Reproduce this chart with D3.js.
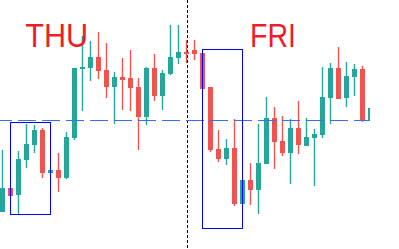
<!DOCTYPE html>
<html>
<head>
<meta charset="utf-8">
<script src="https://cdn.jsdelivr.net/npm/d3@7"></script>
<style>
  html, body { margin: 0; padding: 0; background: #fff; }
  svg { display: block; }
</style>
</head>
<body>
<svg id="svg"></svg>
<script>
// candles, one per index; open / high / low / close
const opens  = [90.8, 93.2, 92.5, 96.0, 97.5, 99.0, 94.7, 95.0, 94.2, 98.2, 105.1, 105.2, 106.3, 105.0, 103.3, 104.3, 104.2, 103.3, 100.3, 105.2, 102.4, 104.6, 106.2, 106.8, 107.0, 106.7, 103.3, 97.1, 96.1, 97.2, 91.6, 94.0, 93.0, 95.6, 100.2, 97.9, 96.7, 99.2, 97.4, 98.2, 98.5, 102.2, 105.2, 102.2, 104.3, 105.1, 100.0];
const highs  = [97.0, 93.2, 96.9, 99.6, 99.5, 99.2, 95.0, 96.7, 98.8, 105.2, 108.4, 107.9, 108.8, 107.7, 104.8, 106.2, 107.0, 104.2, 105.3, 106.6, 105.0, 109.5, 109.5, 108.0, 108.0, 106.7, 103.3, 99.0, 98.1, 100.1, 94.0, 95.7, 99.6, 102.3, 101.3, 100.4, 100.1, 101.9, 100.2, 99.1, 105.3, 105.7, 107.3, 105.8, 105.6, 105.4, 101.2];
const lows   = [90.8, 92.4, 90.6, 95.2, 96.7, 94.2, 94.7, 92.8, 94.1, 98.0, 100.9, 103.9, 104.1, 102.2, 99.6, 101.0, 100.9, 97.0, 99.5, 101.9, 101.0, 104.5, 105.6, 105.7, 106.0, 103.1, 96.8, 95.8, 95.5, 91.4, 91.6, 91.5, 90.6, 95.6, 95.1, 96.4, 93.6, 96.6, 97.4, 93.4, 98.2, 99.6, 102.1, 101.3, 102.4, 99.8, 100.0];
const closes = [93.2, 92.4, 96.1, 97.6, 99.0, 94.7, 95.0, 94.2, 98.3, 105.2, 105.3, 106.3, 104.9, 103.3, 104.3, 104.0, 103.2, 100.3, 105.2, 102.4, 104.7, 106.3, 106.8, 106.6, 106.6, 103.1, 97.0, 96.1, 97.2, 91.6, 94.0, 93.0, 95.7, 100.2, 97.8, 96.7, 99.2, 97.5, 98.3, 98.6, 102.3, 105.2, 102.1, 104.4, 105.1, 99.9, 101.2];

const level = 100.0;            // horizontal dashed line
const dayBreak = 23;            // candle index of the day separator
const dayLabels = ["THU", "FRI"];
const dayLabelAt = [2.84, 30.94]; // index where each label starts
// highlighted ranges: first / last candle index, top / bottom price
const boxFrom = [1, 25];
const boxTo   = [6, 30];
const boxHi   = [99.8, 107.1];
const boxLo   = [90.6, 89.2];

const W = 399, H = 249;

document.addEventListener("DOMContentLoaded", function () {
    const svg = d3.select("#svg").attr("width", W).attr("height", H);

    const x = d3.scaleLinear().domain([0, opens.length - 1]).range([2.5, 370.5]);
    const y = d3.scaleLinear().domain([87.1, 112]).range([H, 0]);
    const px = v => Math.round(v) + 0.5;   // crisp 1px lines

    svg.append("clipPath").attr("id", "plot")
        .append("rect").attr("x", 0).attr("y", 0).attr("width", 370).attr("height", H);

    // day separator
    svg.append("line")
        .attr("x1", px(x(dayBreak))).attr("x2", px(x(dayBreak)))
        .attr("y1", 0).attr("y2", H)
        .attr("stroke", "#000")
        .attr("stroke-width", 1)
        .attr("stroke-dasharray", "3,2");

    const idx = d3.range(opens.length);
    const up = i => closes[i] >= opens[i];
    const col = i => up(i) ? "#26a69a" : "#ef5350";

    const g = svg.append("g").attr("clip-path", "url(#plot)");

    g.selectAll("line.wick")
        .data(idx)
        .join("line")
        .attr("class", "wick")
        .attr("x1", i => x(i)).attr("x2", i => x(i))
        .attr("y1", i => y(highs[i])).attr("y2", i => y(lows[i]))
        .attr("stroke", col)
        .attr("stroke-width", 1.4);

    g.selectAll("rect.body")
        .data(idx)
        .join("rect")
        .attr("class", "body")
        .attr("x", i => x(i) - 2.5)
        .attr("width", 5)
        .attr("y", i => y(Math.max(opens[i], closes[i])))
        .attr("height", i => Math.max(1, Math.abs(y(opens[i]) - y(closes[i]))))
        .attr("fill", col);

    g.append("line")
        .attr("x1", 0).attr("x2", 370)
        .attr("y1", px(y(level))).attr("y2", px(y(level)))
        .attr("stroke", "#3b6fe6")
        .attr("stroke-width", 1)
        .attr("stroke-dasharray", "18,6")
        .attr("stroke-dashoffset", 6);

    svg.selectAll("rect.box")
        .data(boxFrom.map((d, k) => k))
        .join("rect")
        .attr("class", "box")
        .attr("x", k => px(x(boxFrom[k]) - 0.2))
        .attr("width", k => Math.round(x(boxTo[k]) - x(boxFrom[k])))
        .attr("y", k => px(y(boxHi[k])))
        .attr("height", k => Math.round(y(boxLo[k]) - y(boxHi[k])))
        .attr("fill", "none")
        .attr("stroke", "#0000ff")
        .attr("stroke-width", 1);

    const textLen = [63, 46];
    svg.selectAll("text.day")
        .data(dayLabels)
        .join("text")
        .attr("class", "day")
        .attr("x", (d, k) => x(dayLabelAt[k]))
        .attr("y", 47)
        .attr("fill", "#ee1d2b")
        .attr("font-family", "Liberation Sans, Arial, sans-serif")
        .attr("font-size", 34)
        .attr("textLength", (d, k) => textLen[k])
        .attr("lengthAdjust", "spacingAndGlyphs")
        .text(d => d);
});
</script>
</body>
</html>
